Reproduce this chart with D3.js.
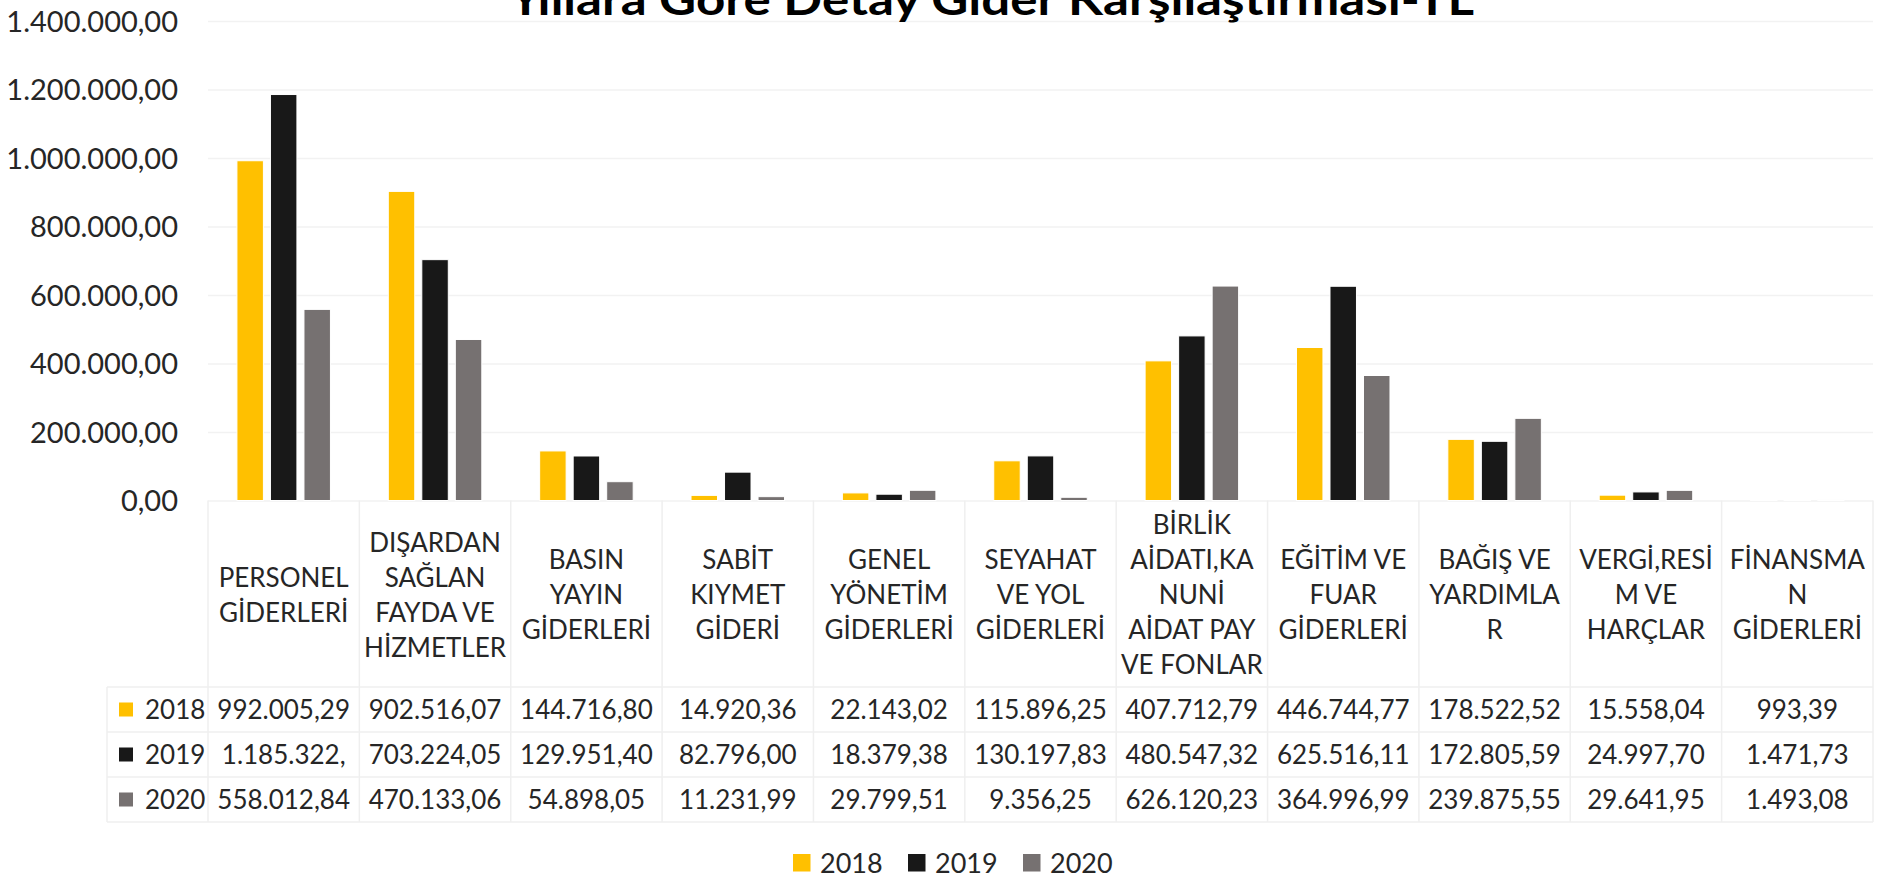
<!DOCTYPE html>
<html>
<head>
<meta charset="utf-8">
<script src="https://cdnjs.cloudflare.com/ajax/libs/d3/7.8.5/d3.min.js"></script>
<style>
  html, body { margin: 0; padding: 0; background: #fff; }
  svg { display: block; font-family: Lato, "Open Sans", sans-serif; }
</style>
</head>
<body>
<svg id="chart" width="1885" height="877"></svg>
<script>
// chart data
var title = "Yıllara Göre Detay Gider Karşılaştırması-TL";

var categories = [
    "PERSONEL\nGİDERLERİ",
    "DIŞARDAN\nSAĞLAN\nFAYDA VE\nHİZMETLER",
    "BASIN\nYAYIN\nGİDERLERİ",
    "SABİT\nKIYMET\nGİDERİ",
    "GENEL\nYÖNETİM\nGİDERLERİ",
    "SEYAHAT\nVE YOL\nGİDERLERİ",
    "BİRLİK\nAİDATI,KA\nNUNİ\nAİDAT PAY\nVE FONLAR",
    "EĞİTİM VE\nFUAR\nGİDERLERİ",
    "BAĞIŞ VE\nYARDIMLA\nR",
    "VERGİ,RESİ\nM VE\nHARÇLAR",
    "FİNANSMA\nN\nGİDERLERİ"
];

var years = ["2018", "2019", "2020"];

var values2018 = [992005.29, 902516.07, 144716.80, 14920.36, 22143.02, 115896.25, 407712.79, 446744.77, 178522.52, 15558.04, 993.39];
var values2019 = [1185322.00, 703224.05, 129951.40, 82796.00, 18379.38, 130197.83, 480547.32, 625516.11, 172805.59, 24997.70, 1471.73];
var values2020 = [558012.84, 470133.06, 54898.05, 11231.99, 29799.51, 9356.25, 626120.23, 364996.99, 239875.55, 29641.95, 1493.08];

var yTicks = [0, 200000, 400000, 600000, 800000, 1000000, 1200000, 1400000];

var colors = ["#FFC000", "#181818", "#767171"];

var series = [values2018, values2019, values2020];

// layout
var plotLeft = 208, plotRight = 1873;
var plotTop = 21, plotBottom = 500.5;
var headerBottom = 687, rowH = 45;
var rowLeft = 107;
var textColor = "#262626";
var lineColor = "#EFEFEF";

var svg = d3.select("#chart");

var trLocale = d3.formatLocale({ decimal: ",", thousands: ".", grouping: [3], currency: ["", ""] });
var fmt = trLocale.format(",.2f");

var x0 = d3.scaleBand().domain(categories).range([plotLeft, plotRight]).padding(0);
var x1 = d3.scaleBand().domain(years).range([0, x0.bandwidth()]).paddingInner(0.21).paddingOuter(0.863);
var y = d3.scaleLinear().domain([0, 1400000]).range([plotBottom, plotTop]);

// y axis + gridlines
var yAxis = d3.axisLeft(y)
    .tickValues(yTicks)
    .tickSize(-(plotRight - plotLeft))
    .tickPadding(30)
    .tickFormat(fmt);

var gy = svg.append("g")
    .attr("transform", "translate(" + plotLeft + ",0)")
    .call(yAxis);
gy.select(".domain").remove();
gy.selectAll(".tick line").attr("stroke", "#F2F2F2").attr("stroke-width", 1.5);
gy.selectAll(".tick text")
    .attr("fill", textColor)
    .attr("font-size", 29)
    .attr("font-family", "Lato, sans-serif")
    .attr("dy", "0.36em");

// bars
var groups = svg.append("g").selectAll("g")
    .data(categories)
    .join("g")
    .attr("transform", function(d) { return "translate(" + x0(d) + ",0)"; });

groups.selectAll("rect")
    .data(function(d, i) {
        return years.map(function(yr, k) { return { year: yr, value: series[k][i], k: k }; });
    })
    .join("rect")
    .attr("x", function(d) { return x1(d.year); })
    .attr("width", x1.bandwidth())
    .attr("y", function(d) { return y(d.value); })
    .attr("height", function(d) { return y(0) - y(d.value); })
    .attr("fill", function(d) { return colors[d.k]; })
    .attr("stroke", "#fff")
    .attr("stroke-width", 1);

// title (cut off at the top, like the original)
svg.append("text")
    .attr("x", 991.5)
    .attr("y", 15)
    .attr("text-anchor", "middle")
    .attr("font-size", 43)
    .attr("font-weight", "bold")
    .attr("fill", "#000")
    .attr("textLength", 965)
    .attr("lengthAdjust", "spacingAndGlyphs")
    .text(title);

// data table
var table = svg.append("g");
var rowsBottom = headerBottom + rowH * years.length;

// vertical borders
table.selectAll("line.v")
    .data(categories.map(function(d) { return x0(d); }).concat([plotRight]))
    .join("line")
    .attr("class", "v")
    .attr("x1", function(d) { return d; })
    .attr("x2", function(d) { return d; })
    .attr("y1", plotBottom)
    .attr("y2", rowsBottom)
    .attr("stroke", lineColor)
    .attr("stroke-width", 1.5);

table.append("line")
    .attr("x1", rowLeft).attr("x2", rowLeft)
    .attr("y1", headerBottom).attr("y2", rowsBottom)
    .attr("stroke", lineColor).attr("stroke-width", 1.5);

// horizontal borders
table.selectAll("line.h")
    .data(d3.range(years.length + 1).map(function(i) { return headerBottom + i * rowH; }))
    .join("line")
    .attr("class", "h")
    .attr("x1", rowLeft)
    .attr("x2", plotRight)
    .attr("y1", function(d) { return d; })
    .attr("y2", function(d) { return d; })
    .attr("stroke", lineColor)
    .attr("stroke-width", 1.5);

// category labels (header row)
var headerMid = 595;
var lineH = 35;
categories.forEach(function(c) {
    var lines = c.split("\n");
    var t = table.append("text")
        .attr("text-anchor", "middle")
        .attr("font-size", 26)
        .attr("fill", textColor);
    lines.forEach(function(l, i) {
        t.append("tspan")
            .attr("x", x0(c) + x0.bandwidth() / 2)
            .attr("y", headerMid - (lines.length - 1) / 2 * lineH + i * lineH + 9.3)
            .text(l);
    });
});

// value rows
var maxTextW = x0.bandwidth() - 14;
years.forEach(function(yr, k) {
    var mid = headerBottom + k * rowH + rowH / 2;

    table.append("rect")
        .attr("x", 119).attr("y", mid - 7)
        .attr("width", 14).attr("height", 14)
        .attr("fill", colors[k]);

    table.append("text")
        .attr("x", 145).attr("y", mid + 9.3)
        .attr("font-size", 26)
        .attr("fill", textColor)
        .text(yr);

    categories.forEach(function(c, i) {
        var s = fmt(series[k][i]);
        var t = table.append("text")
            .attr("x", x0(c) + x0.bandwidth() / 2)
            .attr("y", mid + 9.3)
            .attr("text-anchor", "middle")
            .attr("font-size", 26)
            .attr("fill", textColor)
            .text(s);
        // excel cuts numbers that do not fit the cell
        while (t.node().getComputedTextLength() > maxTextW && s.length > 1) {
            s = s.slice(0, -1);
            t.text(s);
        }
    });
});

// bottom legend
var legendX = [793, 908, 1023];
var legend = svg.append("g").selectAll("g")
    .data(years)
    .join("g")
    .attr("transform", function(d, i) { return "translate(" + legendX[i] + ",863)"; });

legend.append("rect")
    .attr("x", 0).attr("y", -9)
    .attr("width", 17.5).attr("height", 17.5)
    .attr("fill", function(d, i) { return colors[i]; });

legend.append("text")
    .attr("x", 27)
    .attr("y", 10)
    .attr("font-size", 27)
    .attr("fill", textColor)
    .text(function(d) { return d; });
</script>
</body>
</html>
